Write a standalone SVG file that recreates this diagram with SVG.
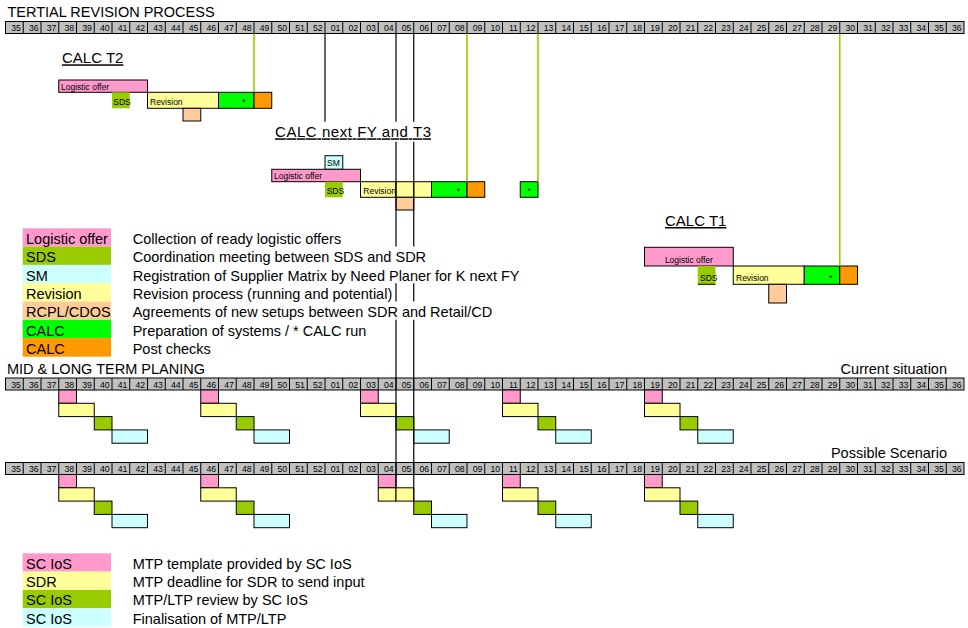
<svg xmlns="http://www.w3.org/2000/svg" xmlns:xlink="http://www.w3.org/1999/xlink" width="968" height="628" viewBox="0 0 968 628">
<style>
text{font-family:"Liberation Sans",Arial,sans-serif;fill:#000}
.wk{font-size:8.7px;text-anchor:end}
.head{font-size:14.5px}
.title{font-size:15px;text-decoration:underline}
.lbl{font-size:8.5px}
.leg{font-size:14.5px}
.b{stroke:#000;stroke-width:1}
.pink{fill:#FF99CC}.sds{fill:#99CC00}.sm{fill:#CCFFFF}.rev{fill:#FFFF99}.rcpl{fill:#FFCC99}.calc{fill:#00FF00}.post{fill:#FF9900}
.vl{stroke:#000;stroke-width:1.2;fill:none}
.gl{stroke:#99CC00;stroke-width:1.6;fill:none}
</style>
<defs>
<g id="weekrow">
<rect x="5.5" y="0" width="958.5" height="12" fill="#C0C0C0" stroke="#000" stroke-width="1"/>
<path stroke="#000" stroke-width="1" d="M23.25 0V12M41 0V12M58.75 0V12M76.5 0V12M94.25 0V12M112 0V12M129.75 0V12M147.5 0V12M165.25 0V12M183 0V12M200.75 0V12M218.5 0V12M236.25 0V12M254 0V12M271.75 0V12M289.5 0V12M307.25 0V12M325 0V12M342.75 0V12M360.5 0V12M378.25 0V12M396 0V12M413.75 0V12M431.5 0V12M449.25 0V12M467 0V12M484.75 0V12M502.5 0V12M520.25 0V12M538 0V12M555.75 0V12M573.5 0V12M591.25 0V12M609 0V12M626.75 0V12M644.5 0V12M662.25 0V12M680 0V12M697.75 0V12M715.5 0V12M733.25 0V12M751 0V12M768.75 0V12M786.5 0V12M804.25 0V12M822 0V12M839.75 0V12M857.5 0V12M875.25 0V12M893 0V12M910.75 0V12M928.5 0V12M946.25 0V12"/>
<text class="wk" x="20.95" y="9.7">35</text><text class="wk" x="38.7" y="9.7">36</text><text class="wk" x="56.45" y="9.7">37</text><text class="wk" x="74.2" y="9.7">38</text><text class="wk" x="91.95" y="9.7">39</text><text class="wk" x="109.7" y="9.7">40</text><text class="wk" x="127.45" y="9.7">41</text><text class="wk" x="145.2" y="9.7">42</text><text class="wk" x="162.95" y="9.7">43</text><text class="wk" x="180.7" y="9.7">44</text><text class="wk" x="198.45" y="9.7">45</text><text class="wk" x="216.2" y="9.7">46</text><text class="wk" x="233.95" y="9.7">47</text><text class="wk" x="251.7" y="9.7">48</text><text class="wk" x="269.45" y="9.7">49</text><text class="wk" x="287.2" y="9.7">50</text><text class="wk" x="304.95" y="9.7">51</text><text class="wk" x="322.7" y="9.7">52</text><text class="wk" x="340.45" y="9.7">01</text><text class="wk" x="358.2" y="9.7">02</text><text class="wk" x="375.95" y="9.7">03</text><text class="wk" x="393.7" y="9.7">04</text><text class="wk" x="411.45" y="9.7">05</text><text class="wk" x="429.2" y="9.7">06</text><text class="wk" x="446.95" y="9.7">07</text><text class="wk" x="464.7" y="9.7">08</text><text class="wk" x="482.45" y="9.7">09</text><text class="wk" x="500.2" y="9.7">10</text><text class="wk" x="517.95" y="9.7">11</text><text class="wk" x="535.7" y="9.7">12</text><text class="wk" x="553.45" y="9.7">13</text><text class="wk" x="571.2" y="9.7">14</text><text class="wk" x="588.95" y="9.7">15</text><text class="wk" x="606.7" y="9.7">16</text><text class="wk" x="624.45" y="9.7">17</text><text class="wk" x="642.2" y="9.7">18</text><text class="wk" x="659.95" y="9.7">19</text><text class="wk" x="677.7" y="9.7">20</text><text class="wk" x="695.45" y="9.7">21</text><text class="wk" x="713.2" y="9.7">22</text><text class="wk" x="730.95" y="9.7">23</text><text class="wk" x="748.7" y="9.7">24</text><text class="wk" x="766.45" y="9.7">25</text><text class="wk" x="784.2" y="9.7">26</text><text class="wk" x="801.95" y="9.7">27</text><text class="wk" x="819.7" y="9.7">28</text><text class="wk" x="837.45" y="9.7">29</text><text class="wk" x="855.2" y="9.7">30</text><text class="wk" x="872.95" y="9.7">31</text><text class="wk" x="890.7" y="9.7">32</text><text class="wk" x="908.45" y="9.7">33</text><text class="wk" x="926.2" y="9.7">34</text><text class="wk" x="943.95" y="9.7">35</text><text class="wk" x="961.7" y="9.7">36</text>
</g>
<g id="step">
<rect class="pink b" x="0" y="0" width="17.75" height="13.3"/>
<rect class="rev b" x="0" y="13.3" width="35.5" height="13.3"/>
<rect class="sds b" x="35.5" y="26.6" width="17.75" height="13.3"/>
<rect class="sm b" x="53.25" y="39.9" width="35.5" height="13.3"/>
</g>
</defs>

<g id="tertial-timeline">
<text class="head" x="7.5" y="17.3">TERTIAL REVISION PROCESS</text>
<use xlink:href="#weekrow" href="#weekrow" x="0" y="21.5"/>
</g>

<g id="calc-t2">
<text class="title" x="62" y="63.3">CALC T2</text>
<rect class="pink b" x="58.75" y="80" width="88.75" height="12.3"/>
<text class="lbl" x="61" y="89.5">Logistic offer</text>
<rect class="sds" x="112" y="92.3" width="17.75" height="16"/>
<text class="lbl" x="113.3" y="104.5">SDS</text>
<rect class="rev b" x="147.5" y="92.3" width="71" height="16"/>
<text class="lbl" x="150" y="104.5">Revision</text>
<rect class="calc b" x="218.5" y="92.3" width="35.5" height="16"/>
<text class="lbl" x="244" y="104.5" text-anchor="middle">*</text>
<rect class="post b" x="254" y="92.3" width="17.75" height="16"/>
<rect class="rcpl b" x="183" y="108.3" width="17.75" height="12.7"/>
</g>

<g id="calc-next-fy">
<text class="title" x="275" y="137.3" textLength="156" lengthAdjust="spacing">CALC next FY and T3</text>
<rect class="sm b" x="325" y="155.7" width="17.75" height="13.6"/>
<text class="lbl" x="327" y="165.7">SM</text>
<rect class="pink b" x="271.75" y="169.3" width="88.75" height="12.4"/>
<text class="lbl" x="274" y="178.8">Logistic offer</text>
<rect class="sds" x="325" y="181.7" width="17.75" height="15.6"/>
<text class="lbl" x="326.7" y="193.8">SDS</text>
<rect class="rev b" x="360.5" y="181.7" width="35.5" height="15.6"/>
<text class="lbl" x="363.3" y="193.8">Revision</text>
<rect class="rev b" x="396" y="181.7" width="17.75" height="15.6"/>
<rect class="rev b" x="413.75" y="181.7" width="17.75" height="15.6"/>
<rect class="calc b" x="431.5" y="181.7" width="35.5" height="15.6"/>
<text class="lbl" x="458.3" y="193.8" text-anchor="middle">*</text>
<rect class="post b" x="467" y="181.7" width="17.75" height="15.6"/>
<rect class="calc b" x="520.25" y="181.7" width="17.75" height="15.6"/>
<text class="lbl" x="529.1" y="193.8" text-anchor="middle">*</text>
<rect class="rcpl b" x="396" y="197.3" width="17.75" height="12.7"/>
</g>

<g id="calc-t1">
<text class="title" x="665" y="226">CALC T1</text>
<rect class="pink b" x="644.5" y="247.3" width="88.75" height="18.7"/>
<text class="lbl" x="688.9" y="263" text-anchor="middle">Logistic offer</text>
<rect class="sds" x="697.75" y="266" width="17.75" height="18.3"/>
<line x1="697.75" y1="284.3" x2="715.5" y2="284.3" stroke="#000" stroke-width="1"/>
<text class="lbl" x="700" y="281.3">SDS</text>
<rect class="rev b" x="733.25" y="266" width="71" height="18.3"/>
<text class="lbl" x="736" y="281.3">Revision</text>
<rect class="calc b" x="804.25" y="266" width="35.5" height="18.3"/>
<text class="lbl" x="831" y="281.3" text-anchor="middle">*</text>
<rect class="post b" x="839.75" y="266" width="17.75" height="18.3"/>
<rect class="rcpl b" x="768.75" y="284.3" width="17.75" height="18.7"/>
</g>

<g id="legend-tertial">
<rect class="pink" x="22.7" y="228.3" width="88.3" height="18.3"/>
<rect class="sds" x="22.7" y="246.6" width="88.3" height="18.3"/>
<rect class="sm" x="22.7" y="264.9" width="88.3" height="18.3"/>
<rect class="rev" x="22.7" y="283.2" width="88.3" height="18.3"/>
<rect class="rcpl" x="22.7" y="301.5" width="88.3" height="18.3"/>
<rect class="calc" x="22.7" y="319.8" width="88.3" height="18.3"/>
<rect class="post" x="22.7" y="338.1" width="88.3" height="18.6"/>
<text class="leg" x="26" y="244">Logistic offer</text>
<text class="leg" x="26" y="262.3">SDS</text>
<text class="leg" x="26" y="280.6">SM</text>
<text class="leg" x="26" y="298.9">Revision</text>
<text class="leg" x="26" y="317.2">RCPL/CDOS</text>
<text class="leg" x="26" y="335.5">CALC</text>
<text class="leg" x="26" y="353.8">CALC</text>
<text class="leg" x="132.7" y="244">Collection of ready logistic offers</text>
<text class="leg" x="132.7" y="262.3">Coordination meeting between SDS and SDR</text>
<text class="leg" x="132.7" y="280.6">Registration of Supplier Matrix by Need Planer for K next FY</text>
<text class="leg" x="132.7" y="298.9">Revision process (running and potential)</text>
<text class="leg" x="132.7" y="317.2">Agreements of new setups between SDR and Retail/CD</text>
<text class="leg" x="132.7" y="335.5">Preparation of systems / * CALC run</text>
<text class="leg" x="132.7" y="353.8">Post checks</text>
</g>

<g id="mid-long-current">
<text class="head" x="7" y="374.3">MID &amp; LONG TERM PLANING</text>
<text class="head" x="947" y="374" text-anchor="end">Current situation</text>
<use xlink:href="#weekrow" href="#weekrow" x="0" y="378"/>
<use xlink:href="#step" href="#step" x="58.75" y="390"/>
<use xlink:href="#step" href="#step" x="200.75" y="390"/>
<use xlink:href="#step" href="#step" x="360.5" y="390"/>
<use xlink:href="#step" href="#step" x="502.5" y="390"/>
<use xlink:href="#step" href="#step" x="644.5" y="390"/>
</g>

<g id="mid-long-possible">
<text class="head" x="947" y="457.5" text-anchor="end">Possible Scenario</text>
<use xlink:href="#weekrow" href="#weekrow" x="0" y="462.5"/>
<use xlink:href="#step" href="#step" x="58.75" y="474.5"/>
<use xlink:href="#step" href="#step" x="200.75" y="474.5"/>
<rect class="pink b" x="378.25" y="474.5" width="17.75" height="13.3"/>
<rect class="rev b" x="378.25" y="487.8" width="17.75" height="13.3"/>
<rect class="rev b" x="396" y="487.8" width="17.75" height="13.3"/>
<rect class="sds b" x="413.75" y="501.1" width="17.75" height="13.3"/>
<rect class="sm b" x="431.5" y="514.4" width="35.5" height="13.3"/>
<use xlink:href="#step" href="#step" x="502.5" y="474.5"/>
<use xlink:href="#step" href="#step" x="644.5" y="474.5"/>
</g>

<g id="legend-mtp">
<rect class="pink" x="22.7" y="553.3" width="88.3" height="18.3"/>
<rect class="rev" x="22.7" y="571.6" width="88.3" height="18.3"/>
<rect class="sds" x="22.7" y="589.9" width="88.3" height="18.3"/>
<rect class="sm" x="22.7" y="608.2" width="88.3" height="18.5"/>
<text class="leg" x="26" y="568.8">SC IoS</text>
<text class="leg" x="26" y="587.1">SDR</text>
<text class="leg" x="26" y="605.4">SC IoS</text>
<text class="leg" x="26" y="623.7">SC IoS</text>
<text class="leg" x="132.7" y="568.8">MTP template provided by SC IoS</text>
<text class="leg" x="132.7" y="587.1">MTP deadline for SDR to send input</text>
<text class="leg" x="132.7" y="605.4">MTP/LTP review by SC IoS</text>
<text class="leg" x="132.7" y="623.7">Finalisation of MTP/LTP</text>
</g>

<g id="connectors">
<path class="gl" d="M254 33.5V92.3M467 33.5V181.7M538 33.5V181.7M839.75 33.5V266"/>
<path class="vl" d="M325 33.5V121.7"/>
<path class="vl" d="M396 33.5V121.7M396 141.7V246.6M396 283.2V301.5M396 319.8V487.8"/>
<path class="vl" d="M413.75 33.5V121.7M413.75 141.7V246.6M413.75 283.2V301.5M413.75 319.8V501.1"/>
</g>
</svg>
